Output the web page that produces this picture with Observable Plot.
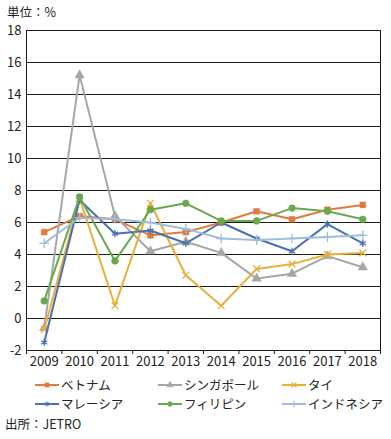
<!DOCTYPE html>
<html><head><meta charset="utf-8">
<script src="https://cdn.jsdelivr.net/npm/d3@7"></script>
<script src="https://cdn.jsdelivr.net/npm/@observablehq/plot@0.6"></script>
<style>
body{margin:0;background:#fff;font-family:"Noto Sans CJK JP","Noto Sans",sans-serif;color:#222;}
#wrap{position:relative;width:391px;height:439px;overflow:hidden;}
#title{position:absolute;left:7px;top:4px;font-size:12.5px;line-height:16px;}
#chart{position:absolute;left:0;top:0;}
#legend{position:absolute;left:0;top:376px;width:391px;height:40px;}
.item{position:absolute;display:flex;align-items:center;font-size:12.5px;line-height:18px;white-space:nowrap;}
.item svg{margin-right:2px;}
#caption{position:absolute;left:5px;top:416px;font-size:12.5px;line-height:16px;}
</style></head><body>
<div id="wrap">
<div id="chart"></div>
<div id="title">単位：%</div>
<div id="legend"></div>
<div id="caption">出所：JETRO</div>
</div>
<script>
const years = [2009, 2010, 2011, 2012, 2013, 2014, 2015, 2016, 2017, 2018];
const yTicks = [-2, 0, 2, 4, 6, 8, 10, 12, 14, 16, 18];
const seriesNames = ["ベトナム", "シンガポール", "タイ", "マレーシア", "フィリピン", "インドネシア"];
const vietnam     = [5.4, 6.4, 6.2, 5.2, 5.4, 6.0, 6.7, 6.2, 6.8, 7.1];
const singapore   = [-0.6, 15.2, 6.4, 4.2, 4.8, 4.1, 2.5, 2.8, 3.9, 3.2];
const thailand    = [-0.7, 7.5, 0.8, 7.2, 2.7, 0.8, 3.1, 3.4, 4.0, 4.1];
const malaysia    = [-1.5, 7.4, 5.3, 5.5, 4.7, 6.0, 5.0, 4.2, 5.9, 4.7];
const philippines = [1.1, 7.6, 3.6, 6.8, 7.2, 6.1, 6.1, 6.9, 6.7, 6.2];
const indonesia   = [4.7, 6.3, 6.2, 6.0, 5.6, 5.0, 4.9, 5.0, 5.1, 5.2];

const styles = [
  {color:"#E07B40", symbol:"square",   filled:true,  r:3.3},
  {color:"#A6A6A6", symbol:"triangle", filled:true,  r:3.5},
  {color:"#E6B03A", symbol:"times",    filled:false, r:3.2},
  {color:"#4A70B2", symbol:"asterisk", filled:false, r:3.4},
  {color:"#6AA84F", symbol:"circle",   filled:true,  r:3.4},
  {color:"#9DBDDF", symbol:"plus",     filled:false, r:3.2}
];
const allValues = [vietnam, singapore, thailand, malaysia, philippines, indonesia];

const seriesData = allValues.map((vals, k) => years.map((yr, i) => ({year: yr, value: vals[i], name: seriesNames[k]})));
const boundaries = [years[0] - 0.5, ...years.map(y => y + 0.5)];

const marks = [
  Plot.gridY(yTicks, {stroke:"#1a1a1a", strokeOpacity:1, strokeWidth:1}),
  Plot.frame({stroke:"#1a1a1a", strokeWidth:1}),
  Plot.axisY(yTicks, {tickSize:0, tickPadding:5, tickFormat: d => String(d), label:null, fontSize:13}),
  Plot.axisX(years, {tickSize:0, tickPadding:6, tickFormat: d => String(d), label:null, fontSize:13}),
  Plot.axisX(boundaries, {tickSize:4, tickFormat: () => "", label:null, stroke:"#1a1a1a"})
];
seriesData.forEach((d, k) => {
  const s = styles[k];
  marks.push(Plot.line(d, {x:"year", y:"value", stroke:s.color, strokeWidth:2}));
  marks.push(Plot.dot(d, {x:"year", y:"value", symbol: () => s.symbol, r:s.r,
    fill: s.filled ? s.color : "none", stroke: s.color, strokeWidth: s.filled ? 0.5 : 1.3}));
});

const chart = Plot.plot({
  width:391, height:372,
  marginTop:30, marginBottom:22, marginLeft:26, marginRight:11,
  style:{fontFamily:'"Noto Sans CJK JP","Noto Sans",sans-serif', fontSize:"13px", color:"#222", background:"transparent"},
  x:{domain:[boundaries[0], boundaries[boundaries.length-1]]},
  y:{domain:[yTicks[0], yTicks[yTicks.length-1]]},
  symbol:{type:"identity"},
  marks
});
document.getElementById("chart").appendChild(chart);

// legend
const legend = document.getElementById("legend");
const cols = [35, 158, 282];
seriesNames.forEach((name, k) => {
  const s = styles[k];
  const row = Math.floor(k / 3), col = k % 3;
  const div = document.createElement("div");
  div.className = "item";
  div.style.left = cols[col] + "px";
  div.style.top = (row * 19) + "px";
  const svg = d3.create("svg").attr("width", 24).attr("height", 18);
  svg.append("line").attr("x1", 0).attr("x2", 24).attr("y1", 9).attr("y2", 9).attr("stroke", s.color).attr("stroke-width", 2);
  const symMap = {square:d3.symbolSquare, triangle:d3.symbolTriangle, times:d3.symbolTimes, asterisk:d3.symbolAsterisk, circle:d3.symbolCircle, plus:d3.symbolPlus};
  svg.append("path").attr("transform", "translate(12,9)")
    .attr("d", d3.symbol(symMap[s.symbol], 18)())
    .attr("fill", s.filled ? s.color : "none").attr("stroke", s.color).attr("stroke-width", s.filled ? 0.5 : 1.1);
  div.appendChild(svg.node());
  const span = document.createElement("span");
  span.textContent = name;
  div.appendChild(span);
  legend.appendChild(div);
});
</script>
</body></html>
